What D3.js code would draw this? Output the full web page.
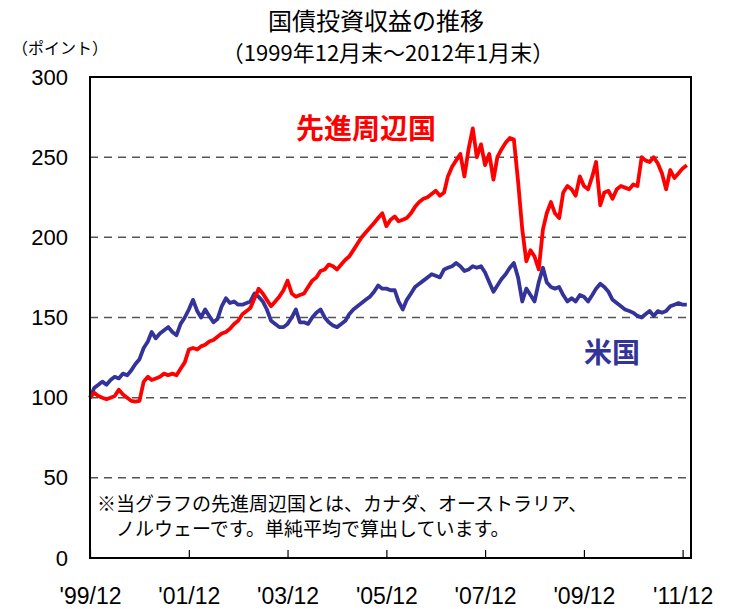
<!DOCTYPE html>
<html>
<head>
<meta charset="utf-8">
<script src="https://cdn.jsdelivr.net/npm/d3@7"></script>
<style>
  body { margin: 0; background: #fff; }
  svg text { font-family: "Noto Sans CJK JP", sans-serif; }
  .num { font-family: "Liberation Sans Narrow", "Liberation Sans", sans-serif; }
</style>
</head>
<body>
<svg id="chart"></svg>
<script>
// monthly index values, 1999/12 .. 2012/01
let startMonth = new Date(1999, 11, 1);
let usValues = [
  100, 106, 108, 110, 108, 111, 113, 112, 115, 114, 117, 121,
  124, 131, 135, 141, 137, 140, 142, 144, 141, 139, 146, 150,
  155, 161, 154, 150, 155, 151, 147, 149, 157, 162, 159, 160,
  158, 158, 159, 160, 165, 163, 160, 155, 148, 146, 144, 144,
  146, 150, 155, 147, 147, 146, 150, 153, 155, 150, 147, 145,
  144, 146, 148, 152, 155, 157, 159, 161, 163, 166, 170, 168,
  168, 167, 167, 160, 155, 161, 165, 169, 171, 173, 175, 177,
  176, 175, 180, 181, 182, 184, 182, 179, 180, 182, 181, 182,
  178, 172, 166, 170, 174, 177, 181, 184, 175, 160, 168, 164,
  160, 172, 181, 172, 169, 168, 169, 164, 160, 162, 160, 164,
  163, 160, 164, 168, 171, 169, 166, 161, 159, 157, 155, 154,
  153, 151, 150, 152, 154, 151, 154, 153, 154, 157, 158, 159,
  158, 158
];
let peripheralValues = [
  100, 103, 101, 100, 99, 100, 101, 105, 102, 100, 98, 97.5,
  98, 110, 113, 111, 112, 113, 115, 114, 115, 114, 118, 122,
  130, 131, 130, 132, 133, 135, 136, 138, 140, 141, 143, 146,
  148, 152, 154, 156, 162, 168, 165, 161, 157, 160, 163, 167,
  173, 165, 163, 164, 165, 169, 173, 175, 179, 180, 183, 182,
  180, 183, 186, 188, 192, 196, 200, 203, 206, 209, 212, 215,
  207, 211, 213, 210, 211, 212, 215, 219, 222, 224, 225, 227,
  229, 226, 228, 238, 244, 248, 252, 238, 255, 268, 250, 258,
  245, 252, 236, 250, 255, 259, 262, 261, 235, 205, 185, 192,
  188, 180, 205, 215, 222, 215, 212, 228, 232, 230, 226, 238,
  232, 230, 238, 247, 220, 228, 229, 224, 230, 232, 231, 230,
  233, 232, 250, 248, 247, 250, 246, 240, 230, 242, 237, 240,
  243, 245
];
let yTicks = [0, 50, 100, 150, 200, 250, 300];
let gridValues = [50, 100, 150, 200, 250];
let xTickLabels = ["'99/12", "'01/12", "'03/12", "'05/12", "'07/12", "'09/12", "'11/12"];

let monthDate = i => d3.timeMonth.offset(startMonth, i);

function makeChart() {
    let w = 731;
    let h = 609;
    let left = 90, right = 691, top = 77, bottom = 558;

    let svg = d3.select('#chart')
        .attr('width', w)
        .attr('height', h);

    let xScale = d3.scaleTime()
        .domain([startMonth, monthDate(146)])
        .range([left, right]);

    let yScale = d3.scaleLinear()
        .domain([0, 300])
        .range([bottom, top]);

    // dashed grid
    svg.append('g')
        .selectAll('line')
        .data(gridValues)
        .join('line')
        .attr('x1', left)
        .attr('x2', right)
        .attr('y1', d => yScale(d))
        .attr('y2', d => yScale(d))
        .attr('stroke', '#555')
        .attr('stroke-width', 1.5)
        .attr('stroke-dasharray', '8,6');

    // y labels
    let yAxis = d3.axisLeft(yScale)
        .tickValues(yTicks)
        .tickSize(0)
        .tickPadding(22);
    let yAxisGroup = svg.append('g')
        .attr('transform', `translate(${left}, 0)`)
        .call(yAxis);
    yAxisGroup.select('.domain').remove();
    yAxisGroup.selectAll('text')
        .attr('class', 'num')
        .attr('font-size', 22)
        .attr('fill', '#000');

    // x axis: ticks pointing up, labels below
    let tickDates = xTickLabels.map((d, i) => monthDate(i * 24));
    let xAxis = d3.axisBottom(xScale)
        .tickValues(tickDates)
        .tickSize(-8)
        .tickPadding(30)
        .tickFormat((d, i) => xTickLabels[i]);
    let xAxisGroup = svg.append('g')
        .attr('transform', `translate(0, ${bottom})`)
        .call(xAxis);
    xAxisGroup.select('.domain').remove();
    xAxisGroup.selectAll('line').attr('stroke', '#000').attr('stroke-width', 1.2);
    xAxisGroup.selectAll('text')
        .attr('class', 'num')
        .attr('font-size', 23)
        .attr('fill', '#000');

    let line = d3.line()
        .x((d, i) => xScale(monthDate(i)))
        .y(d => yScale(d));

    svg.append('path')
        .datum(usValues)
        .attr('fill', 'none')
        .attr('stroke', '#333399')
        .attr('stroke-width', 3.8)
        .attr('stroke-linejoin', 'round')
        .attr('d', line);

    svg.append('path')
        .datum(peripheralValues)
        .attr('fill', 'none')
        .attr('stroke', '#ff0000')
        .attr('stroke-width', 3.8)
        .attr('stroke-linejoin', 'round')
        .attr('d', line);

    // frame
    svg.append('rect')
        .attr('x', left)
        .attr('y', top)
        .attr('width', right - left)
        .attr('height', bottom - top)
        .attr('fill', 'none')
        .attr('stroke', '#000')
        .attr('stroke-width', 2);

    // titles
    svg.append('text')
        .attr('x', 376).attr('y', 30)
        .attr('text-anchor', 'middle')
        .attr('font-size', 24)
        .text('国債投資収益の推移');
    svg.append('text')
        .attr('x', 388).attr('y', 61)
        .attr('text-anchor', 'middle')
        .attr('font-size', 22)
        .text('（1999年12月末～2012年1月末）');
    svg.append('text')
        .attr('x', 12).attr('y', 54)
        .attr('font-size', 16)
        .text('（ポイント）');

    // series labels
    svg.append('text')
        .attr('x', 296).attr('y', 139)
        .attr('font-size', 28)
        .attr('font-weight', 'bold')
        .attr('fill', '#ff0000')
        .text('先進周辺国');
    svg.append('text')
        .attr('x', 584).attr('y', 363)
        .attr('font-size', 28)
        .attr('font-weight', 'bold')
        .attr('fill', '#333399')
        .text('米国');

    // note
    svg.append('text')
        .attr('x', 97).attr('y', 511)
        .attr('font-size', 19)
        .text('※当グラフの先進周辺国とは、カナダ、オーストラリア、');
    svg.append('text')
        .attr('x', 116).attr('y', 536)
        .attr('font-size', 19)
        .text('ノルウェーです。単純平均で算出しています。');
}

makeChart();
</script>
</body>
</html>
